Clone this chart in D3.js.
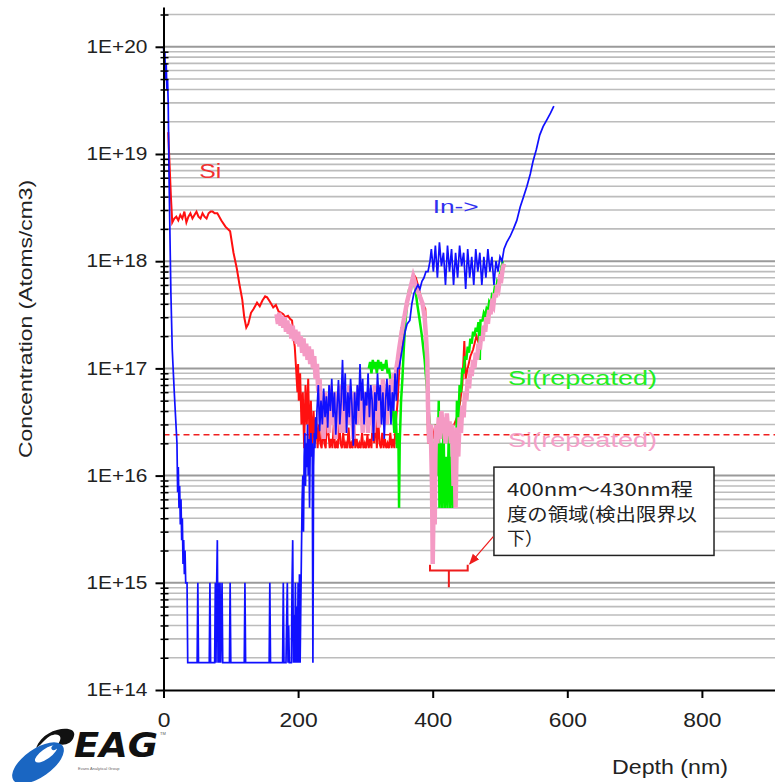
<!DOCTYPE html>
<html>
<head>
<meta charset="utf-8">
<script src="https://cdn.jsdelivr.net/npm/d3@7"></script>
<style>
  body { margin: 0; background: #fff; }
  svg { display: block; font-family: "Liberation Sans", Arial, sans-serif; }
</style>
</head>
<body>
<div id="chart"></div>
<script>
// SIMS depth profile, values as [depth nm, atoms/cm3]
const inProfile = [
  [0,1e20],[1,8e19],[2,9e19],[3,5e19],[4,7e19],[5,4e19],[6,5e19],[7,3e19],[8,8e18],[9,3e18],[10,1.2e18],[11,5e17],
  [13,1.5e17],[16,6e16],[20,2e16],[21,7e15],[22,1.2e16],[23,5e15],[24,8e15],[25,3.5e15],[26,6e15],[27,2.5e15],
  [28,4e15],[29,1.5e15],[30,2.5e15],[31,1.2e15],[32,2e15],[33,1e15],[35,1e15],[36,1.8e14],
  [50,1.8e14],[51,1e15],[52,1.8e14],[68,1.8e14],[69,1e15],[70,1.8e14],[76,1.8e14],[77,1e15],[78,1.8e14],[79,1e15],
  [80,2.5e15],[81,1.8e14],[82,1e15],[83,1.8e14],[84,1e15],[85,1.8e14],[87,1e15],[88,1.8e14],[98,1.8e14],[99,1e15],
  [100,1.8e14],[120,1.8e14],[121,1e15],[122,1.8e14],[157,1.8e14],[158,1e15],[159,1.8e14],[177,1.8e14],[178,1e15],
  [179,1.8e14],[182,1.8e14],[183,4.5e14],[184,1e15],[185,1.8e14],[186,4e14],[187,1.8e14],[190,1.8e14],[191,1e15],
  [192,2.5e15],[193,1.8e14],[194,5e14],[195,1.8e14],[196,1e15],[197,1.8e14],[198,6e14],[199,1.8e14],[200,1e15],
  [201,1.8e14],[202,1.2e15],[203,1.8e14],
  [205,2e15],[206,6e15],[207,1e16],[208,3e15],[209,1.5e16],[210,2.5e16],[211,8e15],[212,2e16],[213,1.2e16],[214,3e16],
  [215,1e16],[216,2.2e16],[217,5e15],[218,1.8e16],[219,2.5e16],[220,1.5e16],[221,2e16],[222,1.8e14],[223,1.2e16],
  [224,2.5e16],[225,1.8e16],[226,3.5e16],[227,2.2e16],[228,4e16],
  [230,7e16],[232,2.6e16],[234,5e16],[236,3e16],[238,6.5e16],[240,3.5e16],[242,5.5e16],[244,2.8e16],[246,7e16],
  [248,4e16],[250,8e16],[252,3.5e16],[254,6e16],[256,2.4e16],[258,4.5e16],[260,7.8e16],[262,3e16],[264,5e16],
  [266,1.2e17],[268,4e16],[270,9e16],[272,2.5e16],[274,6e16],[276,3.5e16],[278,8e16],[280,4.5e16],[282,1.9e16],
  [284,6e16],[286,3e16],[288,7e16],[290,4e16],[292,1.1e17],[294,5e16],[296,8e16],[298,3e16],[300,6e16],[302,4.5e16],
  [304,9e16],[306,3.5e16],[308,7e16],[310,5e16],[312,2.1e16],[314,6e16],[316,4e16],[318,9e16],[320,5e16],[322,7e16],
  [324,3e16],[326,6e16],[328,2.2e16],[330,5e16],[332,8e16],[334,4e16],[336,7e16],[338,3e16],[340,6e16],[342,4e16],
  [344,9e16],[346,5e16],[348,1e17],[350,1e17],
  [353,1.3e17],[356,1.7e17],[359,2.2e17],[362,2.6e17],[366,2.8e17],[369,4e17],[372,5e17],[375,5.5e17],[378,6e17],
  [381,5.5e17],[384,6.5e17],[387,7e17],[390,8e17],[393,8e17],[396,1e18],
  [398,1.3e18],[401,8e17],[404,1.4e18],[407,7e17],[410,1.5e18],[413,9e17],[416,1.2e18],[419,6e17],[422,1.4e18],
  [425,8e17],[428,1.3e18],[431,6e17],[434,1.2e18],[437,7e17],[440,1.4e18],[443,9e17],[446,1.2e18],[449,5.5e17],
  [452,1.3e18],[455,7e17],[458,1.1e18],[461,6e17],[464,1.3e18],[467,8e17],[470,1.2e18],[473,6e17],[476,1.1e18],
  [479,7e17],[482,1.3e18],[485,8e17],[488,1.1e18],[491,6e17],[494,1e18],[497,8e17],[500,1.1e18],[503,1e18],
  [506,1.3e18],[510,1.5e18],[515,1.7e18],[520,2e18],[525,2.4e18],[530,3.2e18],[535,4e18],[540,5e18],[545,6.5e18],
  [549,8.5e18],[554,1.1e19],[559,1.5e19],[564,1.8e19],[570,2.1e19],[575,2.4e19],[580,2.8e19]
];

const siProfile = [
  [7,1.6e19],[9,8e18],[11,4e18],[13,2.3e18],[16,2.5e18],[19,2.6e18],[22,2.4e18],[25,2.7e18],[28,2.5e18],[31,2.9e18],
  [34,2.3e18],[37,2.6e18],[40,2.8e18],[43,2.5e18],[46,2.7e18],[49,2.9e18],[52,2.6e18],[55,2.5e18],[58,2.8e18],
  [61,2.6e18],[64,2.5e18],[67,2.8e18],[70,2.9e18],[73,2.9e18],[76,2.8e18],[80,2.8e18],[86,2.4e18],[92,2.1e18],
  [99,1.9e18],[104,1.2e18],[109,8.5e17],[113,6e17],[117,4.4e17],[120,3e17],[123,2.4e17],[126,2.6e17],[130,3.3e17],
  [134,3.6e17],[139,4.1e17],[143,3.8e17],[147,4.3e17],[151,4.7e17],[154,4.6e17],[157,4.3e17],[160,4e17],[163,3.7e17],
  [167,3.9e17],[171,3.4e17],[175,3.3e17],[178,3.2e17],[181,3e17],[185,3.1e17],[188,2.9e17],[191,2.8e17],[193,2e17],
  [195,1.6e17],[197,1e17],[199,6e16],[200,1.1e17],
  [201,5e16],[203,9e16],[205,3e16],[207,6e16],[209,1.8e16],[211,7e16],[213,3e16],[215,8e16],[217,2e16],[219,5e16],
  [221,1.8e16],[223,4e16],[225,2e16],[227,3.5e16],[229,1.8e16],[231,3e16],[233,2e16],[235,1.8e16],[237,3e16],
  [239,2e16],[241,1.8e16],[243,4e16],[245,2.5e16],[247,1.8e16],[249,2.2e16],[251,1.8e16],[253,3e16],[255,1.8e16],
  [257,2e16],[259,1.8e16],[261,3.5e16],[263,2e16],[265,1.8e16],[267,2.5e16],[269,1.8e16],[271,2e16],[273,1.8e16],
  [275,2.8e16],[277,1.8e16],[279,2e16],[281,1.8e16],[283,3e16],[285,1.8e16],[287,2.2e16],[289,1.8e16],[291,2e16],
  [293,1.8e16],[295,2.5e16],[297,1.8e16],[299,2e16],[301,1.8e16],[303,2.4e16],[305,1.8e16],[307,2.2e16],[309,1.8e16],
  [311,3.8e16],[313,2e16],[315,3.8e16],[317,1.8e16],[319,3.5e16],[321,2e16],[323,1.8e16],[325,2.5e16],[327,1.8e16],
  [329,2.2e16],[331,1.8e16],[333,2e16],[335,1.8e16],[337,2.5e16],[339,1.8e16],[341,2.2e16],[343,1.8e16],[345,3e16],
  [348,5e16],[351,1.2e17],[353,2.4e17],[355,1.5e17],[358,3e17],[361,3.5e17],[364,4.5e17],[367,5.5e17],[370,6.5e17],
  [372,7.5e17],[375,7e17],[378,6e17],[381,5e17],[384,4.3e17],[387,3.8e17],[389,3.6e17],[391,1.5e17],[393,2e16],
  [396,3e16],[400,2.2e16],[404,3e16],[408,2.5e16],[412,3.2e16],[416,2.4e16],[420,3e16],[424,2.5e16],[428,2.8e16],
  [432,3e16],[436,3.5e16],[440,4.5e16],[444,7e16],[447,1.8e17],[449,8e16],[452,1e17],[456,1.3e17],[460,1.5e17],
  [465,2e17],[470,1.6e17],[475,2.2e17],[480,2.9e17],[485,3.4e17],[490,4.2e17],[495,5e17],[500,6.5e17],[505,9e17]
];

const siRepeatGreen = [
  [305,1e17],[307,1.15e17],[309,9e16],[311,1.2e17],[313,1e17],[315,1.15e17],[317,9e16],[319,1.2e17],[321,1e17],
  [323,1.15e17],[325,9.5e16],[327,1.1e17],[329,1e17],[331,1.2e17],[333,9e16],[335,1e17],[337,8e16],[339,6e16],
  [341,4e16],[343,2.5e16],[345,4e16],[347,1.8e16],[349,2.5e16],[350,5e15],[351,2e16],[353,5e16],[355,8e16],
  [357,1.5e17],[359,2.5e17],[361,3.5e17],[363,4.5e17],[365,5.5e17],[367,5e17],[369,6.5e17],[371,7e17],[373,6e17],
  [375,5e17],[377,4e17],[380,3e17],[384,2e17],[388,1.2e17],[391,7e16],[394,4e16],[397,2.5e16],[400,1.5e16],
  [403,2e16],[405,3e16],[407,1e16],[409,5e16],[410,5e15],[412,2e16],[414,5e15],[416,3e16],[418,5e15],[420,1.5e16],
  [422,5e15],[424,3e16],[426,5e15],[428,1.5e16],[430,5e15],[432,2.5e16],[434,6e15],[436,5e16],[438,3e16],[440,7e16],
  [442,6e16],[444,1e17],[446,9e16],[448,1.3e17],[450,1.2e17],[452,1.6e17],[454,1.4e17],[456,1.9e17],[458,1.7e17],
  [460,2.2e17],[462,2e17],[464,2.4e17],[466,2.2e17],[468,2.7e17],[470,1.2e17],[471,2.8e17],[474,2.8e17],[476,3.3e17],
  [478,3.1e17],[480,3.6e17],[482,3.4e17],[484,4.2e17],[486,4e17],[488,4.8e17],[490,4.6e17],[492,5.6e17],[494,5.3e17],
  [496,6.5e17],[498,6.2e17],[500,7.5e17],[502,8.5e17],[504,1e18]
];

const siRepeatPink = [
  [168,3.2e17],[170,2.6e17],[172,3.3e17],[174,2.5e17],[176,3.1e17],[178,2.4e17],[180,3e17],[182,2.2e17],[184,2.8e17],
  [186,2.1e17],[188,2.6e17],[190,1.9e17],[192,2.5e17],[194,1.8e17],[196,2.3e17],[198,1.7e17],[200,2.2e17],[202,1.6e17],
  [204,2e17],[206,1.4e17],[208,1.9e17],[210,1.3e17],[212,1.7e17],[214,1.2e17],[216,1.6e17],[218,1.1e17],[220,1.5e17],
  [222,1e17],[224,1.3e17],[226,8e16],[228,1.1e17],[230,6e16],[232,8e16],[234,3e16],[236,5e16],[238,2.2e16],[240,6e16],
  [242,3e16],[244,5e16],[246,2.5e16],[248,7e16],[250,4e16],[252,3e16],[254,6e16],[256,2.2e16],[258,5e16],[260,3.5e16],
  [262,7e16],[264,2.5e16],[266,4.5e16],[268,6e16],[270,2.5e16],[272,5e16],[274,3e16],[276,7e16],[278,3.5e16],
  [280,5e16],[282,2.2e16],[284,6e16],[286,4e16],[288,3e16],[290,7e16],[292,4e16],[294,5.5e16],[296,2.5e16],[298,6e16],
  [300,3.5e16],[302,5e16],[304,2.5e16],[306,6.5e16],[308,3e16],[310,5e16],[312,2.5e16],[314,7e16],[316,3.5e16],
  [318,5e16],[320,2.8e16],[322,6e16],[324,3.5e16],[326,8e16],[328,4e16],[330,6e16],[332,3e16],[334,7e16],[336,4.5e16],
  [338,8e16],[340,5e16],[342,9e16],[344,6e16],[346,1e17],[348,1.2e17],[350,1.5e17],[353,2e17],[356,2.6e17],
  [359,3.3e17],[362,4.2e17],[365,5e17],[368,6e17],[371,7.2e17],[373,6.5e17],[376,5.5e17],[379,5e17],[382,4.5e17],
  [385,4e17],[388,3e17],[390,2e17],[392,1.2e17],[393,4.4e16],[395,2e16],[397,3e16],[399,8e15],[400,1.5e15],[401,4e15],
  [402,2e16],[403,3.5e15],[404,1.5e16],[405,3e16],[407,2e16],[409,3.5e16],[411,2.2e16],[413,4e16],[415,2.5e16],
  [417,3.5e16],[419,2e16],[421,3.8e16],[423,2.5e16],[425,3.2e16],[427,2e16],[429,3e16],[431,8e15],[432,2.5e16],
  [434,5e15],[436,2.8e16],[438,1.5e16],[440,3.5e16],[442,2.5e16],[444,4.5e16],[446,3.5e16],[448,6e16],[450,5e16],
  [452,8e16],[454,6.5e16],[456,1e17],[458,8.5e16],[460,1.2e17],[462,1e17],[464,1.4e17],[466,1.2e17],[468,1.7e17],
  [470,1.5e17],[472,2e17],[474,1.8e17],[476,2.5e17],[478,2.2e17],[480,3e17],[482,2.6e17],[484,3.5e17],[486,3.2e17],
  [488,4e17],[490,3.8e17],[492,5e17],[494,4.6e17],[496,6e17],[498,5.6e17],[500,7e17],[502,6.8e17],[504,8.5e17],
  [506,9.5e17]
];

const xTicks = [0, 200, 400, 600, 800];
const yTicks = [1e14, 1e15, 1e16, 1e17, 1e18, 1e19, 1e20];
const yTickLabels = ["1E+14", "1E+15", "1E+16", "1E+17", "1E+18", "1E+19", "1E+20"];
const detectionLimit = 2.4e16;
const noteLines = ["400nm～430nm程", "度の領域(検出限界以", "下）"];

const width = 775, height = 782;
const svg = d3.select("#chart").append("svg")
  .attr("width", width)
  .attr("height", height);

const x = d3.scaleLinear().domain([0, 1000]).range([163.5, 836.5]);
const y = d3.scaleLog().domain([1e14, 2.35e20]).range([690, 7]);

// horizontal grid at every minor step
const gridVals = y.ticks().filter(v => v > 1e14);
svg.append("g").selectAll("line")
  .data(gridVals)
  .enter().append("line")
  .attr("x1", x(0)).attr("x2", width)
  .attr("y1", d => y(d)).attr("y2", d => y(d))
  .attr("stroke", d => yTicks.includes(d) ? "#9a9a9a" : "#bcbcbc")
  .attr("stroke-width", d => yTicks.includes(d) ? 2 : 1.6);

// detection limit
svg.append("line")
  .attr("x1", x(0)).attr("x2", width)
  .attr("y1", y(detectionLimit)).attr("y2", y(detectionLimit))
  .attr("stroke", "#f02020").attr("stroke-width", 1.5)
  .attr("stroke-dasharray", "6,4");

const line = d3.line().x(d => x(d[0])).y(d => y(d[1]));

svg.append("path").datum(siProfile).attr("d", line)
  .attr("fill", "none").attr("stroke", "#ff1010").attr("stroke-width", 2);
svg.append("path").datum(siRepeatGreen).attr("d", line)
  .attr("fill", "none").attr("stroke", "#00ee00").attr("stroke-width", 2.5);
svg.append("path").datum(siRepeatPink).attr("d", line)
  .attr("fill", "none").attr("stroke", "#f49ac4").attr("stroke-width", 4.5);
svg.append("path").datum(inProfile).attr("d", line)
  .attr("fill", "none").attr("stroke", "#1010ff").attr("stroke-width", 1.7);

// axes
const yAxis = svg.append("g")
  .attr("transform", "translate(" + x(0) + ",0)")
  .call(d3.axisLeft(y).tickValues(yTicks).tickFormat((d, i) => yTickLabels[i])
    .tickSize(8).tickSizeOuter(0).tickPadding(8));
yAxis.select(".domain").attr("stroke-width", 2);
yAxis.selectAll(".tick line").attr("stroke-width", 2);
yAxis.selectAll("text")
  .attr("font-size", 18).attr("fill", "#222")
  .attr("font-family", "Liberation Sans, Arial, sans-serif")
  .attr("textLength", 61).attr("lengthAdjust", "spacingAndGlyphs");

const minorVals = y.ticks().filter(v => !yTicks.includes(v));
svg.append("g")
  .attr("transform", "translate(" + x(0) + ",0)")
  .call(d3.axisRight(y).tickValues(minorVals).tickFormat("").tickSize(5).tickSizeOuter(0))
  .call(g => g.select(".domain").remove())
  .selectAll(".tick line").attr("stroke-width", 1.5).attr("x1", -3);

const xAxis = svg.append("g")
  .attr("transform", "translate(0," + y(1e14) + ")")
  .call(d3.axisBottom(x).tickValues(xTicks).tickSize(8).tickSizeOuter(0).tickPadding(15));
xAxis.select(".domain").attr("stroke-width", 2);
xAxis.selectAll(".tick line").attr("stroke-width", 2);
xAxis.selectAll("text")
  .attr("font-size", 20).attr("fill", "#222")
  .attr("font-family", "Liberation Sans, Arial, sans-serif")
  .each(function(d) {
    const len = String(d).length;
    d3.select(this).attr("textLength", len * 12.7).attr("lengthAdjust", "spacingAndGlyphs");
  });

// axis titles
svg.append("text")
  .attr("transform", "translate(32,319) rotate(-90)")
  .attr("text-anchor", "middle")
  .attr("font-size", 19).attr("fill", "#222")
  .attr("textLength", 278).attr("lengthAdjust", "spacingAndGlyphs")
  .text("Concentration (Atoms/cm3)");

svg.append("text")
  .attr("x", 612).attr("y", 774)
  .attr("font-size", 20).attr("fill", "#222")
  .attr("textLength", 116).attr("lengthAdjust", "spacingAndGlyphs")
  .text("Depth (nm)");

// series labels
svg.append("text").attr("x", x(53)).attr("y", y(6e18))
  .attr("font-size", 20).attr("fill", "#f03030")
  .attr("textLength", 22).attr("lengthAdjust", "spacingAndGlyphs").text("Si");
svg.append("text").attr("x", x(400)).attr("y", y(2.8e18))
  .attr("font-size", 18).attr("fill", "#3030f0")
  .attr("textLength", 46).attr("lengthAdjust", "spacingAndGlyphs").text("In->");
svg.append("text").attr("x", x(512)).attr("y", y(7e16))
  .attr("font-size", 21).attr("fill", "#22ee22")
  .attr("textLength", 149).attr("lengthAdjust", "spacingAndGlyphs").text("Si(repeated)");
svg.append("text").attr("x", x(512)).attr("y", y(1.85e16))
  .attr("font-size", 21).attr("fill", "#f4a0c8")
  .attr("textLength", 149).attr("lengthAdjust", "spacingAndGlyphs").text("Si(repeated)");

// note box
const bx0 = x(491), bx1 = x(818), by0 = y(1.2e16), by1 = y(1.8e15);
svg.append("rect")
  .attr("x", bx0).attr("y", by0).attr("width", bx1 - bx0).attr("height", by1 - by0)
  .attr("fill", "#fff").attr("stroke", "#222").attr("stroke-width", 1.5);
const noteLens = [186, 190, null];
svg.append("g").selectAll("text")
  .data(noteLines)
  .enter().append("text")
  .attr("x", bx0 + 13)
  .attr("y", (d, i) => by0 + 29 + i * 24.5)
  .attr("font-family", "'Noto Sans CJK JP', sans-serif")
  .attr("font-size", 18).attr("fill", "#222")
  .each(function(d, i) {
    if (noteLens[i]) d3.select(this).attr("textLength", noteLens[i]).attr("lengthAdjust", "spacingAndGlyphs");
  })
  .text(d => d);

// arrow and bracket
svg.append("defs").append("marker")
  .attr("id", "arrowHead").attr("viewBox", "0 0 10 10")
  .attr("refX", 9).attr("refY", 5)
  .attr("markerWidth", 9).attr("markerHeight", 9)
  .attr("orient", "auto")
  .append("path").attr("d", "M0,1L10,5L0,9Z").attr("fill", "#ee1c1c");
svg.append("line")
  .attr("x1", x(490)).attr("y1", y(2.7e15))
  .attr("x2", x(455)).attr("y2", y(1.5e15))
  .attr("stroke", "#ee1c1c").attr("stroke-width", 1.2)
  .attr("marker-end", "url(#arrowHead)");

const brY = y(1.3e15), brTop = y(1.47e15);
svg.append("path")
  .attr("d", "M" + x(396) + "," + brTop + "V" + brY + "H" + x(452) + "V" + brTop +
    "M" + x(424) + "," + brY + "V" + y(9.1e14))
  .attr("fill", "none").attr("stroke", "#ee1c1c").attr("stroke-width", 2);

// EAG logo
const logo = svg.append("g");
logo.append("path")
  .attr("d", "M36,748 C44,726 78,724 74,736 C72,744 64,746 58,744 C64,736 58,732 50,736 C44,740 40,746 36,748Z")
  .attr("fill", "#111");
logo.append("ellipse")
  .attr("cx", 38).attr("cy", 763).attr("rx", 30).attr("ry", 14)
  .attr("transform", "rotate(-35,38,763)")
  .attr("fill", "#1a66c2");
logo.append("ellipse")
  .attr("cx", 46).attr("cy", 754).attr("rx", 13).attr("ry", 5)
  .attr("transform", "rotate(-35,46,754)")
  .attr("fill", "#fff");
logo.append("ellipse")
  .attr("cx", 55).attr("cy", 747).attr("rx", 4).attr("ry", 2.5)
  .attr("transform", "rotate(-35,55,747)")
  .attr("fill", "#1a66c2");
logo.append("text")
  .attr("x", 74).attr("y", 757)
  .attr("font-family", "'DejaVu Sans', sans-serif")
  .attr("font-size", 34).attr("font-weight", "bold").attr("font-style", "italic")
  .attr("fill", "#111")
  .attr("textLength", 84).attr("lengthAdjust", "spacingAndGlyphs")
  .text("EAG");
logo.append("text")
  .attr("x", 160).attr("y", 735).attr("font-size", 4).attr("fill", "#555").text("TM");
logo.append("text")
  .attr("x", 78).attr("y", 770).attr("font-size", 4).attr("fill", "#666")
  .text("Evans Analytical Group");
</script>
</body>
</html>
